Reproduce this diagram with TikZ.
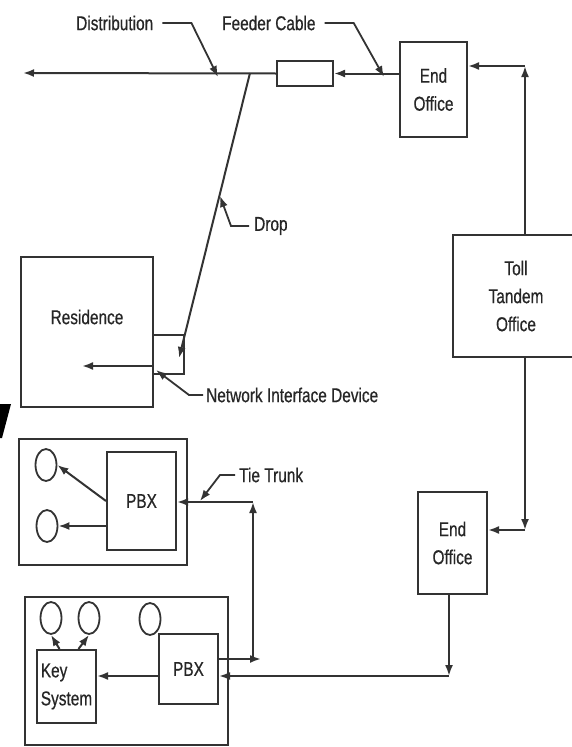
\documentclass[tikz,border=0pt]{standalone}
\usepackage{fontspec}
\setmainfont{Liberation Sans}[FakeStretch=0.77, FakeBold=0.6]
\usetikzlibrary{arrows.meta, shapes.geometric}

\tikzset{
  every node/.style={font=\fontsize{20}{28}\selectfont, text=black!85},
  wire/.style={line width=2pt, draw=black!80},
  leader/.style={line width=1.8pt, draw=black!80},
  box/.style={draw=black!80, line width=2pt, inner sep=0pt, align=center},
  phone/.style={ellipse, draw=black!80, line width=1.8pt, minimum width=21pt, minimum height=32pt, inner sep=0pt},
  lbl/.style={inner sep=0pt},
}

\begin{document}
\begin{tikzpicture}[x=1pt, y=-1pt, >={Latex[length=11pt,width=8pt]}]
  \useasboundingbox (0,0) rectangle (572,747);
  \clip (0,0) rectangle (572,747);
  % offices
  \node[box, minimum width=67pt, minimum height=95pt] (eoT) at (433.5,89.5) {End\\Office};
  \node[box, minimum width=126pt, minimum height=122pt] (toll) at (516,296) {Toll\\Tandem\\Office};
  \node[box, minimum width=69pt, minimum height=102pt] (eoB) at (452.5,543) {End\\Office};
  % outside plant
  \node[box, minimum width=56pt, minimum height=25pt] (cable) at (305,73.5) {};
  \node[box, minimum width=132pt, minimum height=150pt] (res) at (87,332) {};
  \node[lbl] (resLbl) at (87,317) {Residence};
  \node[box, minimum width=31pt, minimum height=39pt, fill=white] (nid) at (168.5,354.5) {};
  % customer sites
  \node[box, minimum width=168pt, minimum height=126pt] (site1) at (103,502) {};
  \node[box, minimum width=69pt, minimum height=98pt] (pbx1) at (141.5,501) {PBX};
  \node[phone] (u1) at (46,465) {};
  \node[phone] (u2) at (47,526) {};
  \node[box, minimum width=203pt, minimum height=148pt] (site2) at (126.5,671) {};
  \node[box, minimum width=59pt, minimum height=70pt] (pbx2) at (188.5,669) {PBX};
  \node[box, minimum width=59pt, minimum height=73pt, align=left] (key) at (66.5,686.5) {Key\\System};
  \node[phone] (k1) at (51,618) {};
  \node[phone] (k2) at (89,618) {};
  \node[phone] (k3) at (150,619) {};
  % corners and free ends
  \coordinate (distEnd) at (23,73);
  \coordinate (dropTop) at (250,73);
  \coordinate (dropEnd) at (179,358);
  \coordinate (resIn) at (82,366);
  \coordinate (tollUp) at (525,66);
  \coordinate (tollDn) at (525,530);
  \coordinate (eoBDn) at (449,676);
  \coordinate (ttTop) at (253,502);
  \coordinate (ttBot) at (253,659);
  \coordinate (ttEnd) at (261,659);
  % lines
  \draw[wire,->] (cable.west) -- (distEnd);
  \draw[wire,->] (eoT.west |- cable.east) -- (cable.east);
  \draw[wire,->] (dropTop) -- (dropEnd);
  \draw[wire,->] (nid.west |- resIn) -- (resIn);
  \draw[wire,->] (toll.north -| tollUp) -- (tollUp);
  \draw[wire,->] (tollUp) -- (eoT.east |- tollUp);
  \draw[wire,->] (toll.south -| tollDn) -- (tollDn);
  \draw[wire,->] (tollDn) -- (eoB.east |- tollDn);
  \draw[wire,->] (eoB.south -| eoBDn) -- (eoBDn);
  \draw[wire,->] (eoBDn) -- (pbx2.east |- eoBDn);
  \draw[wire,->] (pbx2.west |- eoBDn) -- (key.east |- eoBDn);
  \draw[wire,->] ([xshift=-7pt]key.north) -- (k1.south);
  \draw[wire,->] ([xshift=12pt]key.north) -- (k2.south);
  \draw[wire,->] (pbx1.west) -- (u1.east);
  \draw[wire,->] (pbx1.west |- u2.east) -- (u2.east);
  % tie trunk
  \draw[wire,->] (ttTop) -- (pbx1.east |- ttTop);
  \draw[wire,->] (ttBot) -- (ttTop);
  \draw[wire,->] (pbx2.east |- ttBot) -- (ttEnd);
  % labels with leaders
  \node[lbl, anchor=west] (distLbl) at (76,23) {Distribution};
  \node[lbl, anchor=west] (feedLbl) at (222,23) {Feeder Cable};
  \node[lbl, anchor=west] (dropLbl) at (254,226) {Drop};
  \node[lbl, anchor=west] (nidLbl) at (206,395) {Network Interface Device};
  \node[lbl, anchor=west] (tieLbl) at (239,475) {Tie Trunk};
  \coordinate (distTip) at (218,77);
  \coordinate (feedTip) at (384,77);
  \coordinate (dropTip) at (220,196);
  \coordinate (nidTip) at (156,370);
  \coordinate (tieTip) at (200,501);
  \draw[leader,->] ([xshift=9pt]distLbl.east) -- ++(29,0) -- (distTip);
  \draw[leader,->] ([xshift=9pt]feedLbl.east) -- ++(29,0) -- (feedTip);
  \draw[leader,->] ([xshift=-5pt]dropLbl.west) -- ++(-18,0) -- (dropTip);
  \draw[leader,->] ([xshift=-3pt]nidLbl.west) -- ++(-14,0) -- (nidTip);
  \draw[leader,->] ([xshift=-4pt]tieLbl.west) -- ++(-15,0) -- (tieTip);
  % stray mark at the left edge
  \fill[black] (0,404) -- (11,404) -- (2,438) -- (0,438) -- cycle;
\end{tikzpicture}
\end{document}
